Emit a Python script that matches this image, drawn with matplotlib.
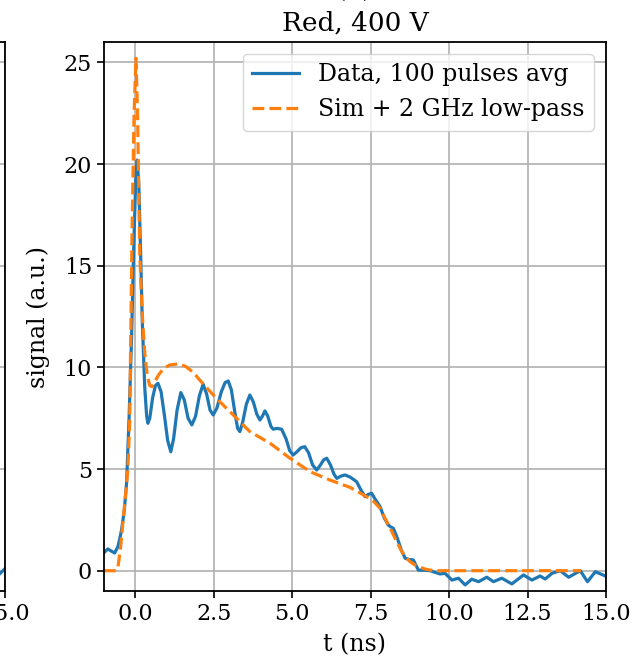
import numpy as np
import matplotlib
matplotlib.use("Agg")
import matplotlib.pyplot as plt

plt.rcParams['font.family'] = 'DejaVu Serif'
plt.rcParams['font.size'] = 16

# valores (t en ns, senal en u.a.)
t_data = [-1.01, -0.88, -0.75, -0.66, -0.55, -0.44, -0.35, -0.28, -0.20, -0.12, -0.05, 0.02,
          0.06, 0.11, 0.17, 0.22, 0.30, 0.36, 0.40, 0.46, 0.55, 0.64, 0.72, 0.82, 0.93, 1.03,
          1.13, 1.22, 1.33, 1.45, 1.56, 1.68, 1.80, 1.92, 2.04, 2.16, 2.27, 2.38, 2.48, 2.60,
          2.74, 2.86, 2.96, 3.06, 3.17, 3.26, 3.33, 3.42, 3.54, 3.65, 3.76, 3.87, 3.97, 4.05,
          4.13, 4.22, 4.32, 4.39, 4.52, 4.66, 4.80, 4.92, 5.03, 5.15, 5.28, 5.40, 5.52, 5.65,
          5.78, 5.90, 6.00, 6.10, 6.22, 6.33, 6.42, 6.55, 6.68, 6.85, 7.05, 7.18, 7.32, 7.42,
          7.53, 7.65, 7.80, 7.93, 8.06, 8.14, 8.22, 8.35, 8.48, 8.60, 8.72, 8.86, 8.95, 9.02,
          9.20, 9.39, 9.55, 9.71, 9.87, 10.09, 10.30, 10.51, 10.72, 10.94, 11.20, 11.41, 11.68,
          12.00, 12.37, 12.64, 12.90, 13.06, 13.28, 13.54, 13.81, 14.18, 14.41, 14.66, 14.98]
s_data = [0.87, 1.07, 0.95, 0.87, 1.20, 2.00, 3.00, 4.31, 7.50, 11.5, 16.0, 19.6,
          20.2, 19.0, 15.5, 12.3, 9.00, 7.60, 7.25, 7.50, 8.50, 9.10, 9.22, 8.80, 7.60, 6.40,
          5.85, 6.50, 7.90, 8.76, 8.40, 7.50, 7.17, 7.60, 8.60, 9.17, 8.70, 7.90, 7.66, 8.00,
          8.80, 9.25, 9.33, 8.90, 7.80, 7.00, 6.84, 7.30, 8.20, 8.64, 8.30, 7.70, 7.41, 7.60,
          7.86, 7.60, 7.10, 6.96, 7.00, 6.96, 6.50, 5.90, 5.69, 5.85, 6.05, 6.10, 5.80, 5.20,
          4.95, 5.20, 5.45, 5.53, 5.20, 4.75, 4.54, 4.65, 4.71, 4.60, 4.38, 4.00, 3.64, 3.75,
          3.81, 3.50, 3.15, 2.60, 2.25, 2.15, 2.09, 1.60, 1.00, 0.61, 0.55, 0.53, 0.25, 0.03,
          0.02, 0.00, -0.08, -0.16, -0.13, -0.46, -0.37, -0.70, -0.42, -0.54, -0.32, -0.54, -0.37,
          -0.65, -0.21, -0.46, -0.26, -0.41, -0.13, 0.00, -0.32, 0.00, -0.54, -0.05, -0.26]

t_sim = [-1.0, -0.62, -0.56, -0.48, -0.40, -0.32, -0.24, -0.18, -0.10, -0.04, 0.02, 0.07,
         0.14, 0.22, 0.30, 0.38, 0.46, 0.53, 0.62, 0.75, 0.90, 1.10, 1.36, 1.60, 1.85, 2.05,
         2.58, 3.12, 3.65, 4.29, 4.93, 5.57, 6.20, 6.84, 7.37, 7.60, 7.80, 7.95, 8.15, 8.33,
         8.47, 8.60, 8.75, 8.91, 9.23, 9.50, 14.2]
s_sim = [0.0, 0.0, 0.12, 1.0, 2.33, 3.6, 4.95, 7.4, 17.2, 22.5, 25.2, 22.5,
         15.6, 12.6, 10.7, 9.6, 9.1, 9.05, 9.3, 9.65, 9.95, 10.12, 10.17, 10.05, 9.75, 9.38,
         8.48, 7.66, 6.84, 6.27, 5.53, 4.87, 4.46, 4.10, 3.64, 3.40, 3.07, 2.60, 2.00, 1.43,
         1.00, 0.69, 0.45, 0.28, 0.08, 0.0, 0.0]

# cola del panel de la izquierda (solo se ve el final)
t_left = [14.6, 14.8, 15.0]
s_left = [-0.35, -0.2, 0.1]

xticks = [0.0, 2.5, 5.0, 7.5, 10.0, 12.5, 15.0]
yticks = [0, 5, 10, 15, 20, 25]

fig = plt.figure(figsize=(6.41, 6.60), dpi=100)

# Panel izquierdo, casi todo fuera de la imagen
ax0 = fig.add_axes([0.0078 - 0.7832, 0.1045, 0.7832, 0.8318])
ax0.plot(t_left, s_left, color='tab:blue', lw=2.3)
ax0.set_xlim(-1.0, 15.0)
ax0.set_ylim(-1.0, 26.0)
ax0.set_xticks(xticks)
ax0.set_yticks(yticks)
ax0.tick_params(width=1.2, length=5)
ax0.grid(True, color='#b0b0b0', lw=1.2)
for sp in ax0.spines.values():
    sp.set_linewidth(1.3)

# Panel principal
ax = fig.add_axes([0.1622, 0.1045, 0.7832, 0.8318])
ax.plot(t_data, s_data, color='tab:blue', lw=2.3, label='Data, 100 pulses avg')
ax.plot(t_sim, s_sim, color='tab:orange', lw=2.3, ls='--', label='Sim + 2 GHz low-pass')
ax.set_xlim(-1.0, 15.0)
ax.set_ylim(-1.0, 26.0)
ax.set_xticks(xticks)
ax.set_yticks(yticks)
ax.tick_params(width=1.2, length=5)
ax.grid(True, color='#b0b0b0', lw=1.2)
for sp in ax.spines.values():
    sp.set_linewidth(1.3)
ax.set_xlabel('t (ns)', fontsize=17, labelpad=6)
ax.set_ylabel('signal (a.u.)', fontsize=17, labelpad=10)
ax.set_title('(b)\nRed, 400 V', fontsize=19, pad=8, linespacing=1.45)
ax.legend(loc='upper right', fontsize=17)

fig.savefig('out.png', dpi=100)
